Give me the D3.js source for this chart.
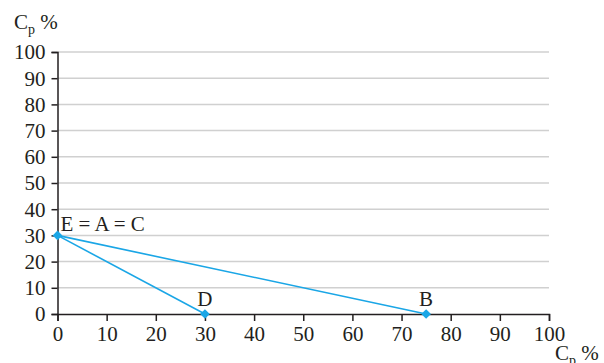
<!DOCTYPE html>
<html>
<head>
<meta charset="utf-8">
<script src="https://cdn.jsdelivr.net/npm/d3@7"></script>
<style>
  body { margin: 0; background: #fff; }
  svg text { font-family: "Liberation Serif", "DejaVu Serif", serif; fill: #231f20; }
</style>
</head>
<body>
<div id="chart"></div>
<script>
// data
const xTicks = [0, 10, 20, 30, 40, 50, 60, 70, 80, 90, 100];
const yTicks = [0, 10, 20, 30, 40, 50, 60, 70, 80, 90, 100];
const points = [
    { name: 'E = A = C', x: 0, y: 30 },
    { name: 'D', x: 30, y: 0 },
    { name: 'B', x: 75, y: 0 }
];
const segments = [['E = A = C', 'D'], ['E = A = C', 'B']];

const W = 604, H = 363;
const lineColor = '#1aa6e6';
const fs = 21;

const svg = d3.select('#chart').append('svg')
    .attr('width', W)
    .attr('height', H);

const x = d3.scaleLinear().domain([0, 100]).range([57.5, 549]);
const y = d3.scaleLinear().domain([0, 100]).range([314, 52]);

// gridlines
svg.append('g')
    .selectAll('line')
    .data(yTicks.filter(d => d > 0))
    .join('line')
    .attr('x1', x(0))
    .attr('x2', x(100))
    .attr('y1', d => y(d))
    .attr('y2', d => y(d))
    .attr('stroke', '#d0d0d0')
    .attr('stroke-width', 1.5);

// y axis
const yAxis = svg.append('g')
    .attr('transform', `translate(${x(0)},0)`)
    .call(d3.axisLeft(y).tickValues(yTicks).tickSize(6).tickPadding(6));
yAxis.select('.domain').attr('stroke', '#231f20').attr('stroke-width', 1.5);
yAxis.selectAll('.tick line').attr('stroke', '#231f20').attr('stroke-width', 1.5);
yAxis.selectAll('.tick text')
    .attr('font-family', '"Liberation Serif", serif')
    .attr('font-size', fs)
    .attr('fill', '#231f20')
    .attr('dy', '0.33em');

// x axis
const xAxis = svg.append('g')
    .attr('transform', `translate(0,${y(0)})`)
    .call(d3.axisBottom(x).tickValues(xTicks).tickSize(7).tickPadding(5));
xAxis.select('.domain').attr('stroke', '#231f20').attr('stroke-width', 1.5);
xAxis.selectAll('.tick line').attr('stroke', '#231f20').attr('stroke-width', 1.5);
xAxis.selectAll('.tick text')
    .attr('font-family', '"Liberation Serif", serif')
    .attr('font-size', fs)
    .attr('fill', '#231f20');

// axis titles
const yTitle = svg.append('text')
    .attr('x', 14)
    .attr('y', 29)
    .attr('font-size', fs);
yTitle.append('tspan').text('C');
yTitle.append('tspan').attr('font-size', 14).attr('dy', 5).text('p');
yTitle.append('tspan').attr('dy', -5).text(' %');

const xTitle = svg.append('text')
    .attr('x', 555)
    .attr('y', 360)
    .attr('font-size', fs);
xTitle.append('tspan').text('C');
xTitle.append('tspan').attr('font-size', 14).attr('dy', 5).text('p');
xTitle.append('tspan').attr('dy', -5).text(' %');

// lines
const byName = {};
points.forEach(p => { byName[p.name] = p; });
svg.append('g')
    .selectAll('line')
    .data(segments)
    .join('line')
    .attr('x1', d => x(byName[d[0]].x))
    .attr('y1', d => y(byName[d[0]].y))
    .attr('x2', d => x(byName[d[1]].x))
    .attr('y2', d => y(byName[d[1]].y))
    .attr('stroke', lineColor)
    .attr('stroke-width', 1.6);

// diamond markers
svg.append('g')
    .selectAll('path')
    .data(points)
    .join('path')
    .attr('transform', d => `translate(${x(d.x)},${y(d.y)})`)
    .attr('d', d3.symbol(d3.symbolDiamond2, 60))
    .attr('fill', lineColor);

// point labels
svg.append('g')
    .selectAll('text')
    .data(points)
    .join('text')
    .attr('x', d => d.x === 0 ? x(d.x) + 3 : x(d.x))
    .attr('y', d => d.x === 0 ? y(d.y) - 4 : y(d.y) - 8)
    .attr('text-anchor', d => d.x === 0 ? 'start' : 'middle')
    .attr('font-size', fs)
    .text(d => d.name);
</script>
</body>
</html>
